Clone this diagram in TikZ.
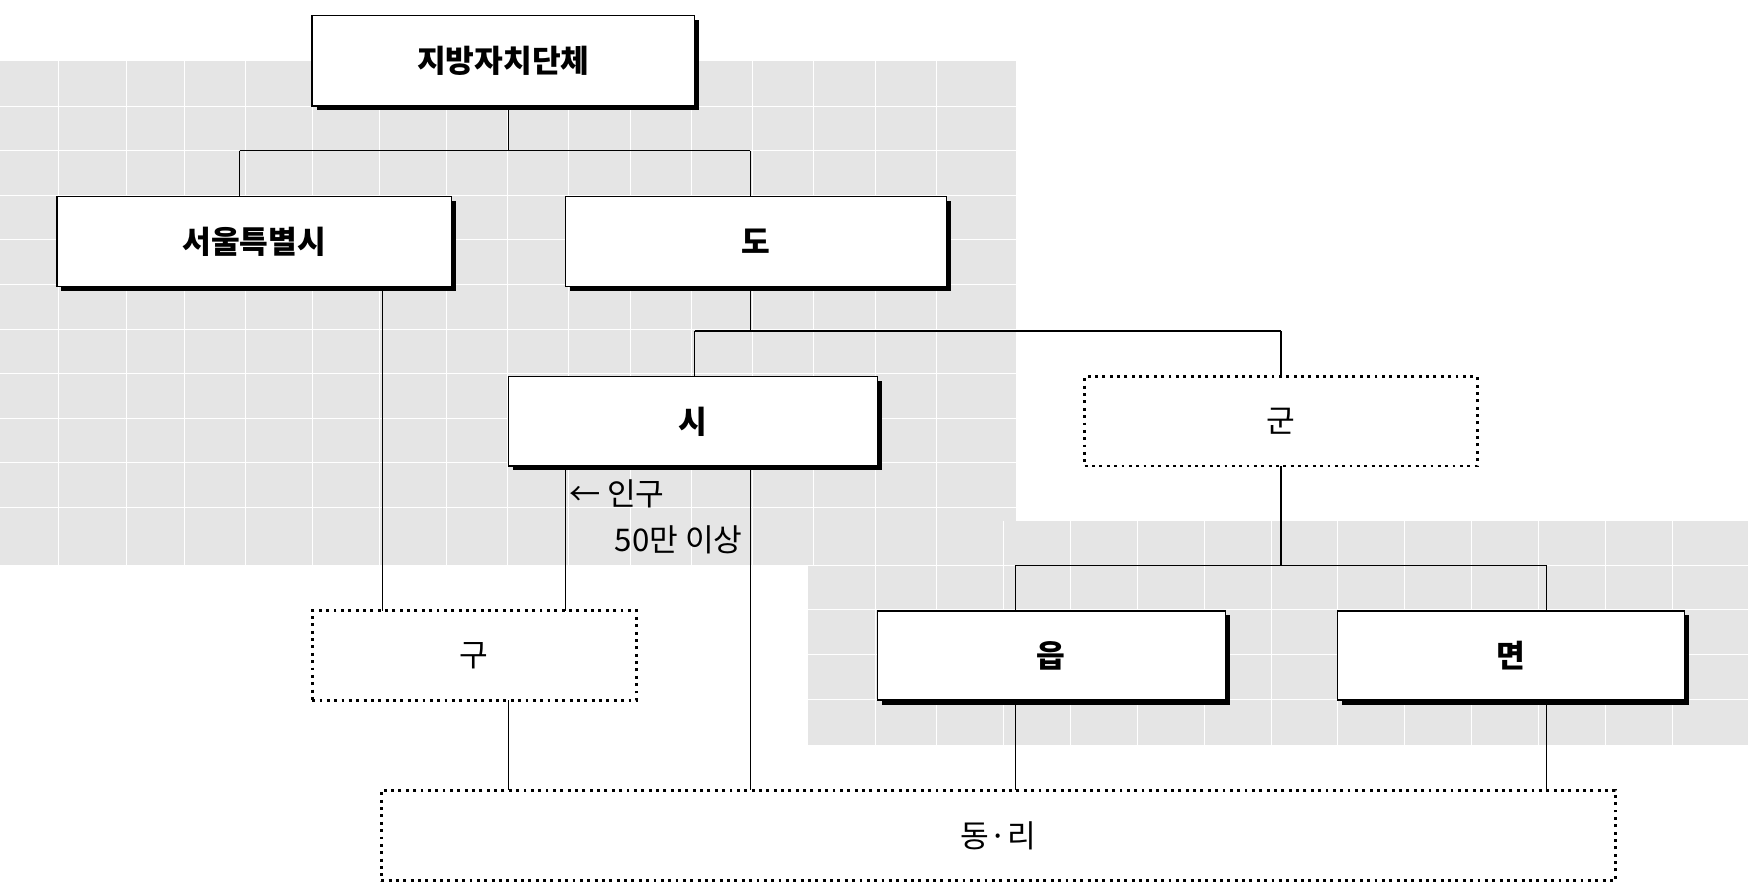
\documentclass[tikz,border=0pt]{standalone}
\usepackage{fontspec}
\newfontfamily\kr{Noto Sans CJK KR}
\begin{document}
\begin{tikzpicture}[x=0.5pt,y=-0.5pt,
  con/.style={line width=0.6pt}]
\useasboundingbox (0,0) rectangle (1568,800);
\fill[gray!20] (0,55) rectangle (911,507);
\fill[gray!20] (725,467) rectangle (1568,668);
\begin{scope}[white,line width=0.3pt]
\foreach \x in {52,113,165,220,280,340,400,455,510,565,620,675,730,785,840} \draw (\x,55) -- (\x,507);
\foreach \y in {95,135,175,215,255,295,335,375,415,455} \draw (0,\y) -- (911,\y);
\foreach \x in {785,840,900,960,1020,1080,1140,1200,1260,1320,1380,1440,1500} \draw (\x,467) -- (\x,668);
\foreach \y in {507,547,587,627} \draw (725,\y) -- (1568,\y);
\end{scope}
\newcommand\myS[6]{%
  \fill (#2+4,#3+4) rectangle (#4+4,#5+4);
  \node[draw,line width=0.6pt,fill=white,font=\kr\bfseries\fontsize{14}{16}\selectfont,minimum width={(#4-#2)*0.5pt},minimum height={(#5-#3)*0.5pt},inner sep=0pt] (#1) at ({(#2+#4)/2},{(#3+#5)/2}) {#6};}
\newcommand\myD[6]{%
  \node[draw,line width=1.3pt,dotted,fill=white,font=\kr\fontsize{14}{16}\selectfont,minimum width={(#4-#2)*0.5pt},minimum height={(#5-#3)*0.5pt},inner sep=0pt] (#1) at ({(#2+#4)/2},{(#3+#5)/2}) {#6};}
\coordinate (j1) at (456,135); \coordinate (j1l) at (215,135); \coordinate (j1r) at (673,135);
\coordinate (j2) at (673,297); \coordinate (j2l) at (623,297); \coordinate (j2r) at (1149,297);
\coordinate (j3) at (1149,507); \coordinate (j3l) at (911,507); \coordinate (j3r) at (1387,507);
\draw[con] (456,95) -- (j1) (j1l) -- (j1r) (j1l) -- (215,176) (j1r) -- (673,176);
\draw[con] (343,257) -- (343,548);
\draw[con] (673,257) -- (j2) (j2l) -- (j2r) (j2l) -- (623,338) (j2r) -- (1149,338);
\draw[con] (507,418) -- (507,548);
\draw[con] (673,418) -- (673,709);
\draw[con] (1149,418) -- (j3) (j3l) -- (j3r) (j3l) -- (911,548) (j3r) -- (1387,548);
\draw[con] (456,628) -- (456,709) (911,628) -- (911,709) (1387,628) -- (1387,709);
\myS{top}{280}{14}{623}{95}{지방자치단체}
\myS{seoul}{51}{176}{405}{257}{서울특별시}
\myS{do}{507}{176}{849}{257}{도}
\myS{si}{456}{338}{787}{418}{시}
\myD{gun}{973}{338}{1325}{418}{군}
\myD{gu}{280}{548}{571}{628}{구}
\myS{eup}{787}{548}{1099}{628}{읍}
\myS{myeon}{1200}{548}{1511}{628}{면}
\myD{dong}{342}{709}{1449}{790}{동·리}
\node[anchor=west,font=\kr\fontsize{14}{16}\selectfont,inner sep=0pt] (pop1) at (510,443) {← 인구};
\node[anchor=west,font=\kr\fontsize{14}{16}\selectfont,inner sep=0pt] (pop2) at (551,484) {50만 이상};
\end{tikzpicture}
\end{document}
